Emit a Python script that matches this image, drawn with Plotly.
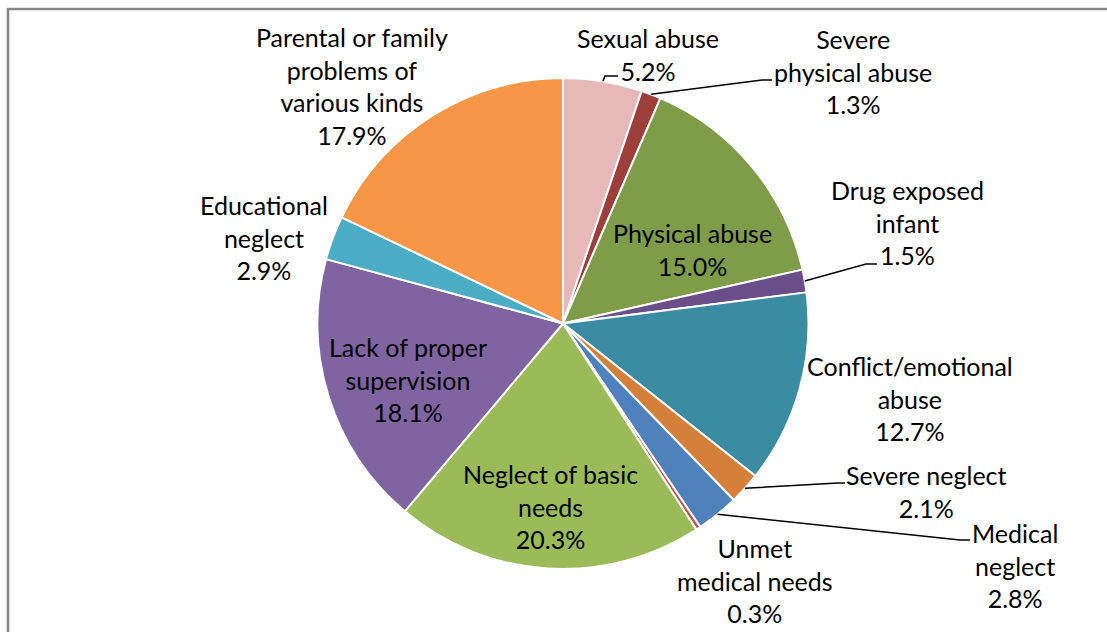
import math
import plotly.graph_objects as go

# Reasons for child welfare referrals, percent of all cases
categories = [
    "Sexual abuse",
    "Severe physical abuse",
    "Physical abuse",
    "Drug exposed infant",
    "Conflict/emotional abuse",
    "Severe neglect",
    "Medical neglect",
    "Unmet medical needs",
    "Neglect of basic needs",
    "Lack of proper supervision",
    "Educational neglect",
    "Parental or family problems of various kinds",
]
percentages = [5.2, 1.3, 15.0, 1.5, 12.7, 2.1, 2.8, 0.3, 20.3, 18.1, 2.9, 17.9]

# Wrapped label text shown on the chart
label_lines = [
    "Sexual abuse",
    "Severe<br>physical abuse",
    "Physical abuse",
    "Drug exposed<br>infant",
    "Conflict/emotional<br>abuse",
    "Severe neglect",
    "Medical<br>neglect",
    "Unmet<br>medical needs",
    "Neglect of basic<br>needs",
    "Lack of proper<br>supervision",
    "Educational<br>neglect",
    "Parental or family<br>problems of<br>various kinds",
]

colors = [
    "#E6B9B8", "#9E3E3B", "#7F9C48", "#6A4E8A", "#3A8CA3", "#D4803A",
    "#4F81BD", "#C0504D", "#9BBB59", "#8064A2", "#4BACC6", "#F79646",
]

W, H = 1107, 632
FONT = "Lato"
FONT_SIZE = 25

# Pie placement (pixels)
CX, CY, R = 563.0, 323.5, 245.5

# Label block centres (pixels), one per slice
label_pos = [
    (648, 54), (853, 72), (692, 249), (907, 222), (910, 398), (926, 491),
    (1015, 565), (755, 580), (550, 507), (408, 379), (264, 237), (352, 86),
]

# Leader lines: slice index -> (elbow, end) in pixels
leaders = {
    0: ((605, 76), (618, 76)),
    1: ((762, 80), (772, 80)),
    3: ((866, 264), (877, 264)),
    5: ((838, 483), (845, 483)),
    6: ((960, 540), (970, 540)),
}


def px(x):
    return x / W


def py(y):
    return 1 - y / H


fig = go.Figure(
    go.Pie(
        labels=categories,
        values=percentages,
        sort=False,
        direction="clockwise",
        rotation=0,
        textinfo="none",
        hoverinfo="label+percent",
        marker=dict(colors=colors, line=dict(color="white", width=2)),
        domain=dict(x=[px(CX - R), px(CX + R)], y=[py(CY + R), py(CY - R)]),
        showlegend=False,
    )
)

annotations = []
for text, value, (lx, ly) in zip(label_lines, percentages, label_pos):
    annotations.append(
        dict(
            x=px(lx), y=py(ly), xref="paper", yref="paper",
            text=f"{text}<br>{value:.1f}%",
            showarrow=False, xanchor="center", yanchor="middle",
            align="center",
            font=dict(family=FONT, size=FONT_SIZE, color="#000000"),
        )
    )

# Leader lines start on the rim at the middle of each slice
total = sum(percentages)
cum = 0.0
mids = []
for v in percentages:
    mids.append((cum + v / 2) / total * 2 * math.pi)
    cum += v

shapes = []
for i, ((ex, ey), (tx, ty)) in leaders.items():
    a = mids[i]
    sx = CX + R * math.sin(a)
    sy = CY - R * math.cos(a)
    shapes.append(
        dict(
            type="path", xref="paper", yref="paper",
            path=(f"M {px(sx)} {py(sy)} L {px(ex)} {py(ey)} "
                  f"L {px(tx)} {py(ty)}"),
            line=dict(color="#000000", width=1.5),
        )
    )

# Chart frame
shapes.append(
    dict(
        type="rect", xref="paper", yref="paper",
        x0=px(8), y0=-0.2, x1=1.2, y1=py(9),
        line=dict(color="#868686", width=2.5),
        fillcolor="rgba(0,0,0,0)",
    )
)

fig.update_layout(
    width=W, height=H,
    margin=dict(l=0, r=0, t=0, b=0),
    paper_bgcolor="white",
    plot_bgcolor="white",
    annotations=annotations,
    shapes=shapes,
)

fig.write_html("out.html")
